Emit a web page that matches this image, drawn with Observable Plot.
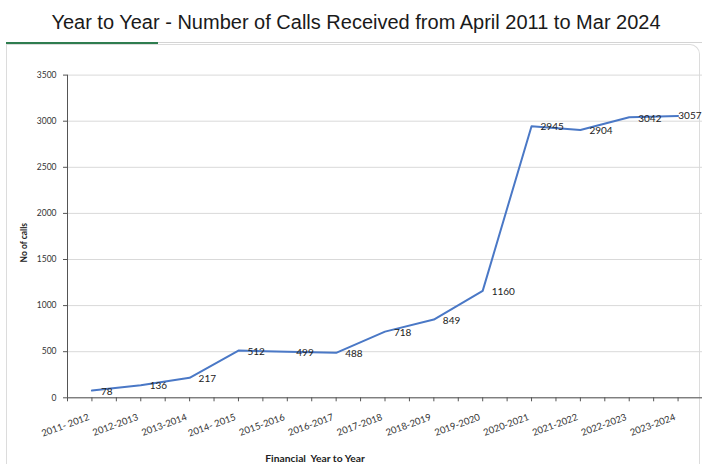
<!DOCTYPE html>
<html><head><meta charset="utf-8">
<script src="https://cdn.jsdelivr.net/npm/d3@7"></script>
<script src="https://cdn.jsdelivr.net/npm/@observablehq/plot@0.6"></script>
<style>
html,body{margin:0;padding:0;background:#fff;}
body{width:702px;height:464px;overflow:hidden;position:relative;font-family:"Liberation Sans",Arial,sans-serif;}
#head{position:absolute;left:0;top:0;width:702px;height:43px;}
#title{position:absolute;left:5px;top:11px;width:702px;text-align:center;font-size:20px;color:#1a1a1a;white-space:nowrap;}
#rule{position:absolute;left:6px;top:42px;width:696px;height:1px;background:#d4d4d4;}
#green{position:absolute;left:0;top:-0.5px;width:152px;height:2px;background:#2e7d4f;}
#box{position:absolute;left:6px;top:44px;width:694px;height:440px;border:1px solid #dcdcdc;border-top-right-radius:10px;box-sizing:border-box;border-bottom:none;}
#chart{position:absolute;left:0;top:43px;}
</style></head><body>
<div id="head"><div id="title">Year to Year - Number of Calls Received from April 2011 to Mar 2024</div><div id="rule"><div id="green"></div></div></div>
<div id="box"></div>
<div id="chart"></div>
<script>
const years = ["2011- 2012","2012-2013","2013-2014","2014- 2015","2015-2016","2016-2017","2017-2018","2018-2019","2019-2020","2020-2021","2021-2022","2022-2023","2023-2024"];
const calls = [78,136,217,512,499,488,718,849,1160,2945,2904,3042,3057];
const yTicks = [0,500,1000,1500,2000,2500,3000,3500];
const yLabel = "No of calls";
const xLabel = "Financial  Year to Year";

const data = years.map((year, i) => ({i, year, calls: calls[i]}));
const idx = d3.range(years.length);
const tickMarks = idx.flatMap(i => [i - 0.5, i]).concat([years.length - 0.5]);
const font = "Lato,'DejaVu Sans Condensed',sans-serif";

const chart = Plot.plot({
  width: 702, height: 421,
  marginTop: 31.6, marginBottom: 66.7, marginLeft: 67, marginRight: 0,
  style: {fontFamily: font, fontSize: "9px", color: "#333", background: "transparent", overflow: "visible"},
  x: {type: "linear", domain: [-0.5, years.length - 0.5]},
  y: {domain: [0, 3500]},
  marks: [
    Plot.gridY(yTicks, {stroke: "#d9d9d9", strokeOpacity: 1}),
    Plot.axisY(yTicks, {tickSize: 4, tickPadding: 7, stroke: "#555", fontSize: 8.5, label: null, tickFormat: d => String(d)}),
    Plot.axisX(tickMarks, {tickSize: 4, stroke: "#555", tickFormat: () => "", label: null}),
    Plot.axisX(idx, {tickSize: 0, tickRotate: -20, tickPadding: 17, dx: -3, dy: 2, tickFormat: i => years[i], fontSize: 9.5, label: null}),
    Plot.ruleX([-0.5], {stroke: "#555"}),
    Plot.ruleY([0], {stroke: "#555"}),
    Plot.line(data, {x: "i", y: "calls", stroke: "#4a78c6", strokeWidth: 2}),
    Plot.text(data.slice(0, -1), {x: "i", y: "calls", text: d => String(d.calls), textAnchor: "start", dx: 9, dy: 1, fontSize: 10, fill: "#222"}),
    Plot.text(data.slice(-1), {frameAnchor: "right", y: "calls", text: d => String(d.calls), textAnchor: "end", dx: -1, fontSize: 10, fill: "#222"}),
    Plot.text([yLabel], {frameAnchor: "left", dx: -43, dy: 26, rotate: -90, fontWeight: "bold", fontSize: 8.5, fill: "#222"}),
    Plot.text([xLabel], {frameAnchor: "bottom", dx: -70, dy: 64, fontWeight: "bold", fontSize: 10.3, fill: "#222"})
  ]
});
document.getElementById("chart").appendChild(chart);
</script>
</body></html>
